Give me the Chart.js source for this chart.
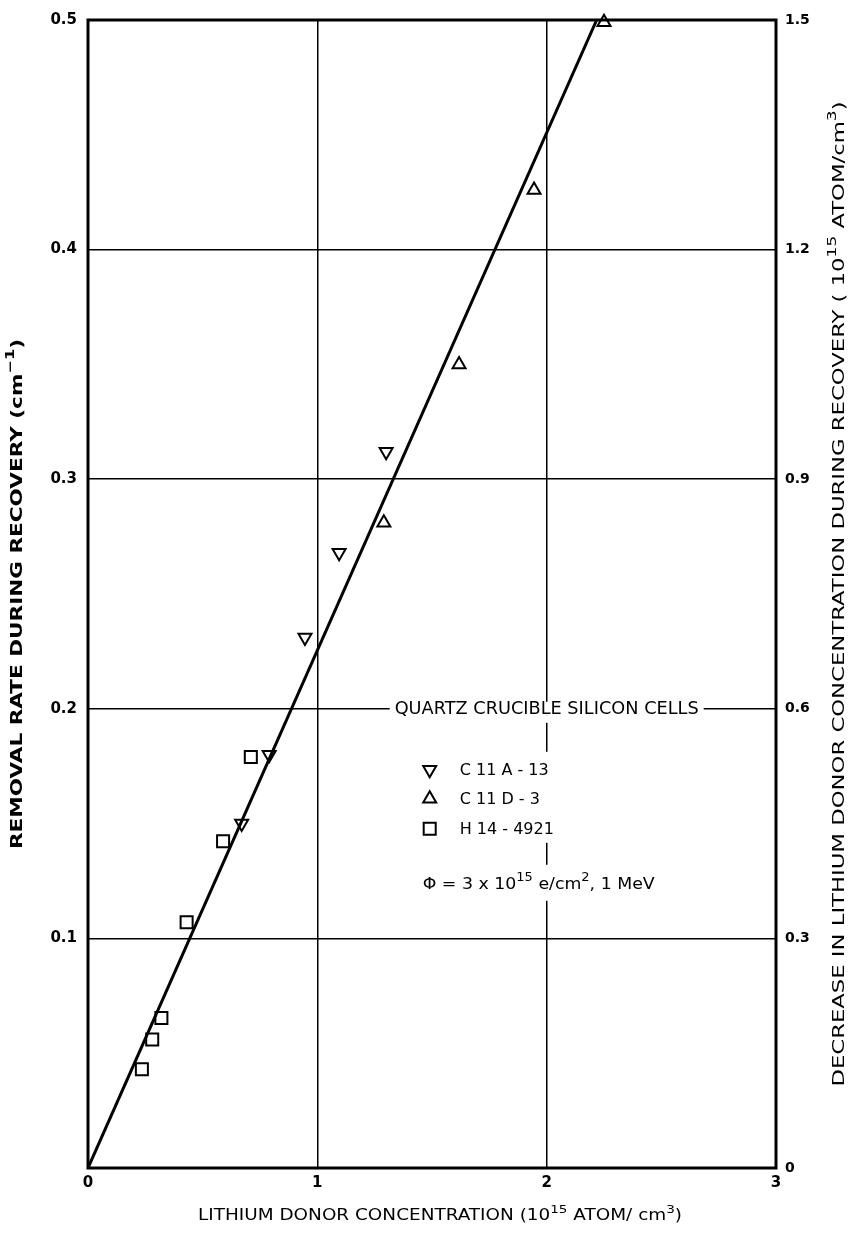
<!DOCTYPE html>
<html>
<head>
<meta charset="utf-8">
<script src="https://cdn.jsdelivr.net/npm/chart.js@4.4.0/dist/chart.umd.min.js"></script>
<style>
  html, body { margin: 0; padding: 0; background: #fff; }
  canvas { display: block; }
</style>
</head>
<body>
<canvas id="chart" width="857" height="1233"></canvas>
<script>
// values (x in 10^15 atom/cm3, y in cm^-1)
const c11aX = [0.67, 0.79, 0.946, 1.095, 1.30];
const c11aY = [0.150, 0.180, 0.231, 0.268, 0.312];
const c11dX = [1.29, 1.618, 1.945, 2.25];
const c11dY = [0.281, 0.350, 0.426, 0.499];
const h14X = [0.235, 0.28, 0.32, 0.43, 0.589, 0.71];
const h14Y = [0.043, 0.056, 0.0653, 0.107, 0.1423, 0.179];
const fitX = [0, 2.218];
const fitY = [0, 0.5];

const xTicks = [0, 1, 2, 3];
const leftTicks = [0, 0.1, 0.2, 0.3, 0.4, 0.5];
const rightTicks = [0, 0.3, 0.6, 0.9, 1.2, 1.5];

const seriesNames = ['C 11 A - 13', 'C 11 D - 3', 'H 14 - 4921'];
const boxTitle = 'QUARTZ CRUCIBLE SILICON CELLS';

const FONT = '"DejaVu Sans", sans-serif';

const pts = (xs, ys) => xs.map((x, i) => ({ x: x, y: ys[i] }));

const markerA = { pointStyle: 'triangle', rotation: 180, radius: 7.5, borderWidth: 2 };
const markerD = { pointStyle: 'triangle', rotation: 0, radius: 7.5, borderWidth: 2 };
const markerH = { pointStyle: 'rect', rotation: 0, radius: 8.5, borderWidth: 2 };

function drawRich(ctx, parts, x, y, size, weight) {
  for (const p of parts) {
    const s = p.sup ? Math.round(size * 0.75) : size;
    ctx.font = weight + ' ' + s + 'px ' + FONT;
    ctx.fillText(p.t, x, p.sup ? y - size * 0.42 : y);
    x += ctx.measureText(p.t).width;
  }
}
function richWidth(ctx, parts, size, weight) {
  let w = 0;
  for (const p of parts) {
    const s = p.sup ? Math.round(size * 0.75) : size;
    ctx.font = weight + ' ' + s + 'px ' + FONT;
    w += ctx.measureText(p.t).width;
  }
  return w;
}
// text stretched to a given length; align 'center' or 'left', optionally rotated
function drawText(ctx, parts, x, y, size, weight, len, rot, align) {
  ctx.save();
  ctx.translate(x, y);
  ctx.rotate(rot || 0);
  const w = richWidth(ctx, parts, size, weight);
  ctx.scale(len ? len / w : 1, 1);
  drawRich(ctx, parts, align === 'left' ? 0 : -w / 2, 0, size, weight);
  ctx.restore();
}

const annotate = {
  id: 'annotate',
  afterDatasetsDraw(chart) {
    const { ctx, chartArea: a, scales } = chart;
    const xs = scales.x, ys = scales.y;
    ctx.save();
    ctx.fillStyle = '#000';
    ctx.textBaseline = 'middle';

    // box heading on the 0.2 grid line, centred on x = 2
    const gx = xs.getPixelForValue(2);
    const gy = ys.getPixelForValue(0.2);
    const headLen = 304;
    ctx.fillStyle = '#fff';
    ctx.fillRect(gx - headLen / 2 - 5, gy - 7, headLen + 10, 14);
    // gaps in the x = 2 grid line behind the legend rows
    ctx.fillRect(gx - 3, gy + 7, 6, 7);
    ctx.fillRect(gx - 3, gy + 43, 6, 91);
    ctx.fillRect(gx - 3, gy + 156, 6, 36);
    ctx.fillStyle = '#000';
    drawText(ctx, [{ t: boxTitle }], gx, gy + 1, 17, 'normal', headLen, 0, 'center');

    // legend rows
    const mx = xs.getPixelForValue(1.49);
    const markers = [markerA, markerD, markerH];
    const rowY = [61, 90, 120];
    ctx.strokeStyle = '#000';
    markers.forEach((m, i) => {
      ctx.fillStyle = '#fff';
      ctx.lineWidth = m.borderWidth;
      Chart.helpers.drawPoint(ctx, m, mx, gy + rowY[i]);
      ctx.fillStyle = '#000';
      drawText(ctx, [{ t: seriesNames[i] }], mx + 30, gy + rowY[i] + 1, 16, 'normal', 0, 0, 'left');
    });
    drawText(ctx, [
      { t: '\u03A6 = 3 x 10' }, { t: '15', sup: true }, { t: ' e/cm' }, { t: '2', sup: true }, { t: ', 1 MeV' }
    ], mx - 7, gy + 176, 16, 'normal', 232, 0, 'left');

    // frame
    ctx.strokeStyle = '#000';
    ctx.lineWidth = 3;
    ctx.strokeRect(a.left, a.top, a.right - a.left, a.bottom - a.top);

    // axis titles
    const midY = (a.top + a.bottom) / 2;
    drawText(ctx, [{ t: 'LITHIUM DONOR CONCENTRATION (10' }, { t: '15', sup: true }, { t: ' ATOM/ cm' }, { t: '3', sup: true }, { t: ')' }],
      (a.left + a.right) / 2 + 8, a.bottom + 48, 15, 'normal', 484, 0, 'center');
    drawText(ctx, [{ t: 'REMOVAL RATE DURING RECOVERY (cm' }, { t: '\u22121', sup: true }, { t: ')' }],
      18, midY, 16, 'bold', 510, -Math.PI / 2, 'center');
    drawText(ctx, [{ t: 'DECREASE IN LITHIUM DONOR CONCENTRATION DURING RECOVERY ( 10' }, { t: '15', sup: true }, { t: ' ATOM/cm' }, { t: '3', sup: true }, { t: ')' }],
      840, midY, 16, 'normal', 985, -Math.PI / 2, 'center');
    ctx.restore();
  }
};

const scatterSet = (label, data, m) => ({
  label: label,
  data: data,
  showLine: false,
  pointStyle: m.pointStyle,
  rotation: m.rotation,
  pointRadius: m.radius,
  pointHoverRadius: m.radius,
  pointBorderWidth: m.borderWidth,
  pointBorderColor: '#000',
  pointBackgroundColor: '#fff',
  clip: false
});

new Chart(document.getElementById('chart').getContext('2d'), {
  type: 'scatter',
  data: {
    datasets: [
      {
        label: 'fit',
        data: pts(fitX, fitY),
        showLine: true,
        borderColor: '#000',
        borderWidth: 3,
        pointRadius: 0,
        pointHoverRadius: 0
      },
      scatterSet(seriesNames[0], pts(c11aX, c11aY), markerA),
      scatterSet(seriesNames[1], pts(c11dX, c11dY), markerD),
      scatterSet(seriesNames[2], pts(h14X, h14Y), markerH)
    ]
  },
  options: {
    responsive: false,
    animation: false,
    devicePixelRatio: 1,
    layout: { padding: { top: 18, left: 0, right: 0, bottom: 0 } },
    plugins: { legend: { display: false }, tooltip: { enabled: false } },
    scales: {
      x: {
        type: 'linear', min: 0, max: 3,
        afterFit: s => { s.height = 65; },
        afterBuildTicks: s => { s.ticks = xTicks.map(v => ({ value: v })); },
        ticks: { color: '#000', padding: 6, font: { family: FONT, size: 15, weight: 'bold' }, callback: v => String(v) },
        grid: { color: '#000', lineWidth: 1.5, drawTicks: false },
        border: { display: false }
      },
      y: {
        type: 'linear', position: 'left', min: 0, max: 0.5,
        afterFit: s => { s.width = 88; },
        afterBuildTicks: s => { s.ticks = leftTicks.map(v => ({ value: v })); },
        ticks: { color: '#000', padding: 11, font: { family: FONT, size: 15, weight: 'bold' }, callback: v => v === 0 ? '' : v.toFixed(1) },
        grid: { color: '#000', lineWidth: 1.5, drawTicks: false },
        border: { display: false }
      },
      y2: {
        type: 'linear', position: 'right', min: 0, max: 1.5,
        afterFit: s => { s.width = 81; },
        afterBuildTicks: s => { s.ticks = rightTicks.map(v => ({ value: v })); },
        ticks: { color: '#000', padding: 9, font: { family: FONT, size: 14, weight: 'bold' }, callback: v => v === 0 ? '0' : v.toFixed(1) },
        grid: { display: false, drawTicks: false },
        border: { display: false }
      }
    }
  },
  plugins: [annotate]
});
</script>
</body>
</html>
